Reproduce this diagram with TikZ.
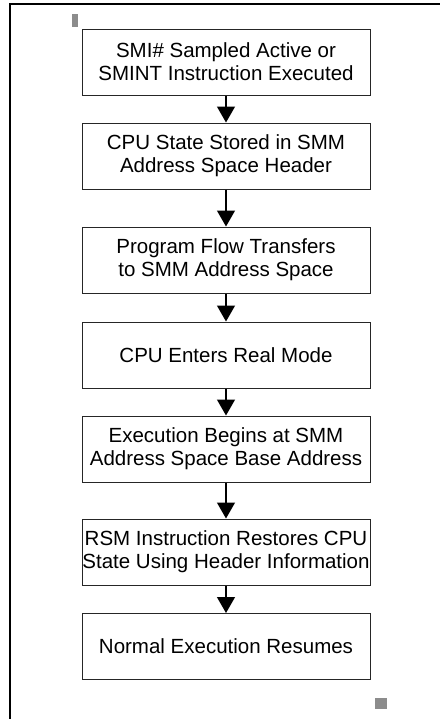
\documentclass[tikz,border=0pt]{standalone}
\usepackage{fontspec}
\setmainfont{Liberation Sans}
\usetikzlibrary{arrows.meta}

\begin{document}
\begin{tikzpicture}[x=0.5pt,y=-0.5pt,
  stepbox/.style={rectangle,draw=black!85,line width=0.5pt,minimum width=144pt,minimum height=33pt,inner sep=0pt,align=center,font=\fontsize{10.25pt}{11.6pt}\selectfont},
  flow/.style={line width=0.6pt,-{Triangle[width=9pt,length=8pt]}}]
\useasboundingbox (0,0) rectangle (440,719);
% page frame and marks
\draw[line width=1pt] (10,719) -- (10,3.5) -- (440,3.5);
\fill[black!45] (72,14) rectangle (78,27);
\fill[black!45] (375,698) rectangle (387,709);
\node[stepbox] (1) at (226,62) {SMI\# Sampled Active or\\SMINT Instruction Executed};
\node[stepbox] (2) at (226,156) {CPU State Stored in SMM\\Address Space Header};
\node[stepbox] (3) at (226,260) {Program Flow Transfers\\to SMM Address Space};
\node[stepbox] (4) at (226,355) {CPU Enters Real Mode};
\node[stepbox] (5) at (226,449) {Execution Begins at SMM\\Address Space Base Address};
\node[stepbox] (6) at (226,552) {RSM Instruction Restores CPU\\State Using Header Information};
\node[stepbox] (7) at (226,646.5) {Normal Execution Resumes};
\path[draw,flow](1) edge (2);
\path[draw,flow](2) edge (3);
\path[draw,flow](3) edge (4);
\path[draw,flow](4) edge (5);
\path[draw,flow](5) edge (6);
\path[draw,flow](6) edge (7);
\end{tikzpicture}
\end{document}
